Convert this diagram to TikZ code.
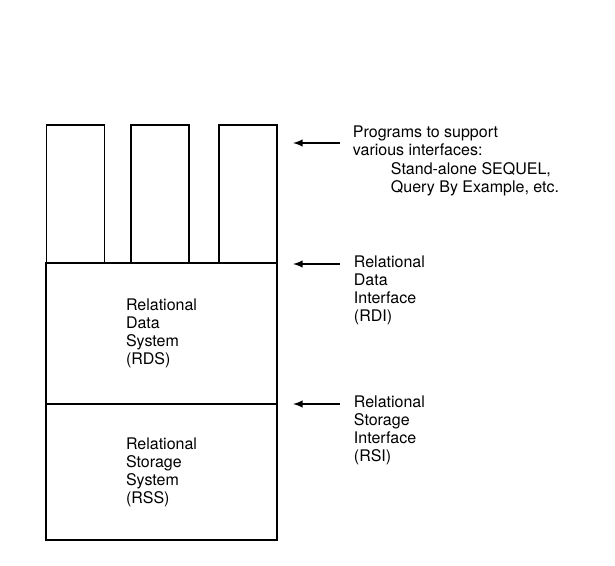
\documentclass[tikz,border=0pt]{standalone}
\usepackage{fontspec}
\setmainfont{TeX Gyre Heros}
\usetikzlibrary{arrows}
\tikzset{
	prog/.style   = {draw, rectangle, minimum width = 43.5pt,
		minimum height = 103.5pt},
	layer/.style  = {draw, rectangle, align = left, minimum width = 173.25pt},
	note/.style   = {anchor = base west, inner sep = 0pt, align = left},
	pointer/.style = {<-, line width = 1.5pt}
}

\begin{document}
\begin{tikzpicture}[x=0.75pt, y=-0.75pt, line width=1.4pt, >=latex,
	font=\fontsize{12}{13.5}\selectfont]
	\useasboundingbox (0,0) rectangle (615,566);
	\draw
	node at (75.5,194) [prog] (p1) {}
	node at (160,194) [prog] (p2) {}
	node at (248,194) [prog] (p3) {}
	node at (161.5,333.5) [layer, minimum height = 105.75pt] (rds)
		{Relational\\Data\\System\\(RDS)}
	node at (161.5,472) [layer, minimum height = 102pt] (rss)
		{Relational\\Storage\\System\\(RSS)};
	
	% labels on the right (base = last line)
	\node[note] (progtxt) at (352,156) {Programs to support\\various interfaces:};
	\node[note] (progex) at (390,193) {Stand-alone SEQUEL,\\Query By Example, etc.};
	\node[note] (rdi) at (353,322) {Relational\\Data\\Interface\\(RDI)};
	\node[note] (rsi) at (353,462) {Relational\\Storage\\Interface\\(RSI)};
	
	\coordinate (t1) at (293,143);
	\coordinate (s1) at (340,143);
	\coordinate (t2) at (293,264);
	\coordinate (s2) at (340,264);
	\coordinate (t3) at (293,404);
	\coordinate (s3) at (340,404);
	\draw[pointer](t1)--(s1);
	\draw[pointer](t2)--(s2);
	\draw[pointer](t3)--(s3);
\end{tikzpicture}
\end{document}
